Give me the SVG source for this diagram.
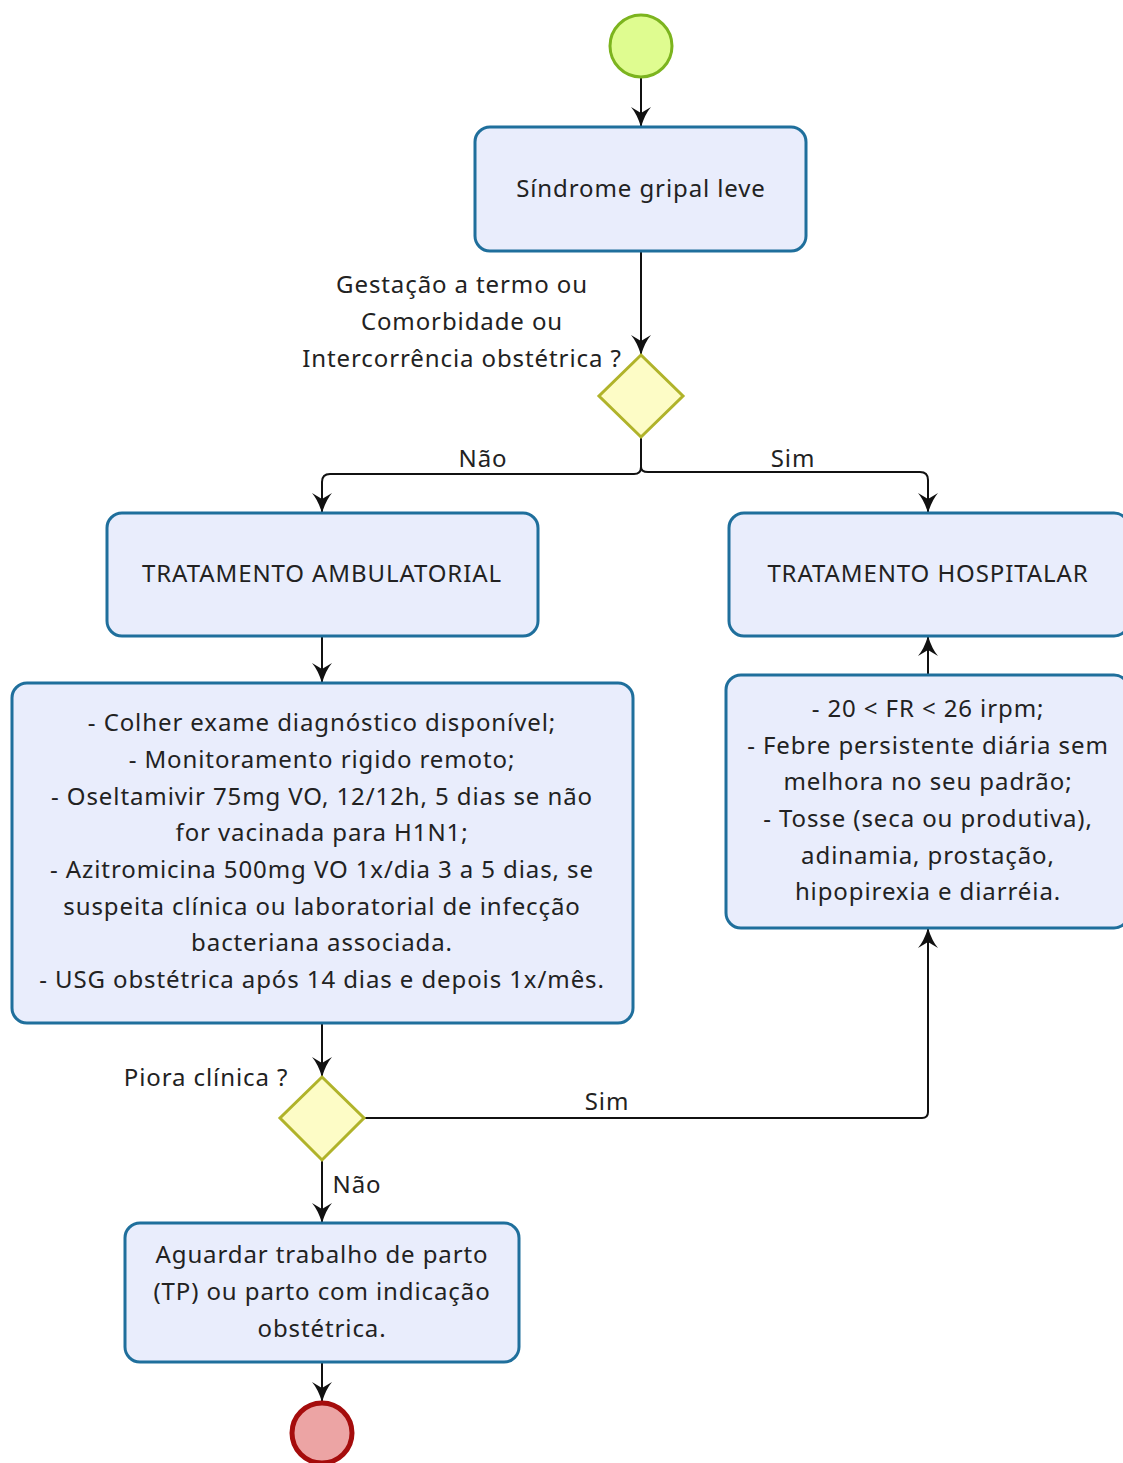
<svg xmlns="http://www.w3.org/2000/svg" width="1123" height="1463" viewBox="0 0 1123 1463">
<defs>
<marker id="arr" markerWidth="20" markerHeight="20" viewBox="0 0 20 20" refX="19" refY="10" orient="auto" markerUnits="userSpaceOnUse">
<path d="M0,0 Q7,6 20,10 Q7,14 0,20 L6,10 Z" fill="#111"/>
</marker>
<style>
.box{fill:#e9edfc;stroke:#1f6f9c;stroke-width:3}
.dia{fill:#fdfcc6;stroke:#b0b32a;stroke-width:3}
.t{font-family:"Noto Sans","Open Sans","DejaVu Sans",sans-serif;font-size:24px;letter-spacing:0.9px;fill:#222;text-anchor:middle}
.c{fill:none;stroke:#111;stroke-width:2}
</style>
</defs>
<rect width="1123" height="1463" fill="#fff"/>
<g id="connectors">
<path class="c" d="M641,78 V126" marker-end="url(#arr)"/>
<path class="c" d="M641,252 V354" marker-end="url(#arr)"/>
<path class="c" d="M641,438 V467 Q641,474 634,474 H330 Q322,474 322,482 V512" marker-end="url(#arr)"/>
<path class="c" d="M641,467 Q641,472 648,472 H920 Q928,472 928,480 V512" marker-end="url(#arr)"/>
<path class="c" d="M322,637 V682" marker-end="url(#arr)"/>
<path class="c" d="M928,674 V637" marker-end="url(#arr)"/>
<path class="c" d="M322,1024 V1076" marker-end="url(#arr)"/>
<path class="c" d="M364,1118 H922 Q928,1118 928,1112 V929" marker-end="url(#arr)"/>
<path class="c" d="M322,1161 V1222" marker-end="url(#arr)"/>
<path class="c" d="M322,1363 V1401" marker-end="url(#arr)"/>
<text class="t" x="483" y="467">Não</text>
<text class="t" x="793" y="467">Sim</text>
<text class="t" x="607" y="1110">Sim</text>
<text class="t" x="357" y="1193">Não</text>
</g>
<g id="start"><circle cx="641" cy="46" r="31" fill="#dffc90" stroke="#7cb41e" stroke-width="3"/></g>
<g id="sindrome">
<rect class="box" x="475" y="127" width="331" height="124" rx="15"/>
<text class="t" x="641" y="197">Síndrome gripal leve</text>
</g>
<g id="decision1">
<polygon class="dia" points="641,355 683,396 641,437 599,396"/>
<text class="t" x="462" y="293">Gestação a termo ou</text>
<text class="t" x="462" y="330">Comorbidade ou</text>
<text class="t" x="462" y="367">Intercorrência obstétrica ?</text>
</g>
<g id="ambulatorial">
<rect class="box" x="107" y="513" width="431" height="123" rx="15"/>
<text class="t" x="322" y="582">TRATAMENTO AMBULATORIAL</text>
</g>
<g id="hospitalar">
<rect class="box" x="729" y="513" width="400" height="123" rx="15"/>
<text class="t" x="928" y="582">TRATAMENTO HOSPITALAR</text>
</g>
<g id="condutas">
<rect class="box" x="12" y="683" width="621" height="340" rx="15"/>
<text class="t" x="322" y="731">- Colher exame diagnóstico disponível;</text>
<text class="t" x="322" y="768">- Monitoramento rigido remoto;</text>
<text class="t" x="322" y="805">- Oseltamivir 75mg VO, 12/12h, 5 dias se não</text>
<text class="t" x="322" y="841">for vacinada para H1N1;</text>
<text class="t" x="322" y="878">- Azitromicina 500mg VO 1x/dia 3 a 5 dias, se</text>
<text class="t" x="322" y="915">suspeita clínica ou laboratorial de infecção</text>
<text class="t" x="322" y="951">bacteriana associada.</text>
<text class="t" x="322" y="988">- USG obstétrica após 14 dias e depois 1x/mês.</text>
</g>
<g id="sinais">
<rect class="box" x="726" y="675" width="403" height="253" rx="15"/>
<text class="t" x="928" y="717">- 20 &lt; FR &lt; 26 irpm;</text>
<text class="t" x="928" y="754">- Febre persistente diária sem</text>
<text class="t" x="928" y="790">melhora no seu padrão;</text>
<text class="t" x="928" y="827">- Tosse (seca ou produtiva),</text>
<text class="t" x="928" y="864">adinamia, prostação,</text>
<text class="t" x="928" y="900">hipopirexia e diarréia.</text>
</g>
<g id="decision2">
<polygon class="dia" points="322,1077 364,1118 322,1160 280,1118"/>
<text class="t" x="206" y="1086">Piora clínica ?</text>
</g>
<g id="aguardar">
<rect class="box" x="125" y="1223" width="394" height="139" rx="15"/>
<text class="t" x="322" y="1263">Aguardar trabalho de parto</text>
<text class="t" x="322" y="1300">(TP) ou parto com indicação</text>
<text class="t" x="322" y="1337">obstétrica.</text>
</g>
<g id="end"><circle cx="322" cy="1433" r="30" fill="#eca4a4" stroke="#a50c0c" stroke-width="5"/></g>
</svg>
